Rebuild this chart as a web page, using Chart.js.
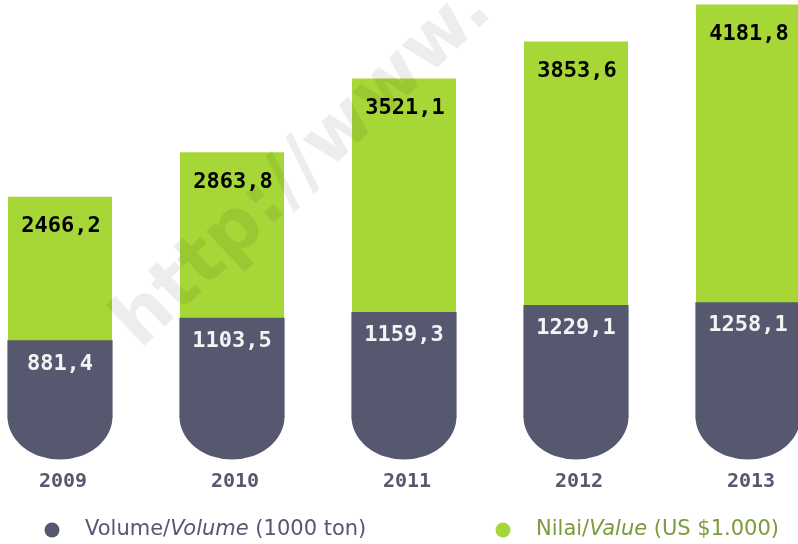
<!DOCTYPE html>
<html lang="id">
<head>
    <meta charset="UTF-8">
    <title>Volume dan Nilai 2009-2013</title>
    <script src="https://cdn.jsdelivr.net/npm/chart.js"></script>
    <style>
        body {
            margin: 0;
            background: #ffffff;
        }
        canvas {
            display: block;
        }
    </style>
</head>
<body>
    <canvas id="chart" width="798" height="544"></canvas>

    <script>
        const years = ['2009', '2010', '2011', '2012', '2013'];
        const volume = [881.4, 1103.5, 1159.3, 1229.1, 1258.1];   // 1000 ton
        const value = [2466.2, 2863.8, 3521.1, 3853.6, 4181.8];   // US $1.000

        const DARK = '#56586f';
        const GREEN = '#a7d737';

        // the two series sit on their own (hidden) axes
        const VOL_MIN = 127, VOL_MAX = 4255;
        const VAL_MIN = 500, VAL_MAX = 4223;

        const fmt = v => v.toFixed(1).replace('.', ',');

        // rounded bottom under each dark bar
        const capsPlugin = {
            id: 'caps',
            afterDatasetsDraw(chart) {
                const ctx = chart.ctx;
                const bottom = chart.chartArea.bottom;
                ctx.save();
                ctx.fillStyle = DARK;
                chart.getDatasetMeta(0).data.forEach(bar => {
                    ctx.beginPath();
                    ctx.ellipse(bar.x, bottom - 0.5, bar.width / 2 + 0.5, 43, 0, 0, Math.PI);
                    ctx.fill();
                });
                ctx.restore();
            }
        };

        const watermarkPlugin = {
            id: 'watermark',
            afterDatasetsDraw(chart) {
                const ctx = chart.ctx;
                ctx.save();
                ctx.translate(140, 350);
                ctx.rotate(-0.76);
                ctx.font = 'bold 74px "DejaVu Sans"';
                ctx.fillStyle = 'rgba(0,0,0,0.07)';
                ctx.fillText('http://www.', 0, 0);
                ctx.restore();
            }
        };

        const labelsPlugin = {
            id: 'barLabels',
            afterDatasetsDraw(chart) {
                const ctx = chart.ctx;
                const x = chart.scales.x;
                ctx.save();
                ctx.font = 'bold 22px "DejaVu Sans Mono"';
                ctx.textAlign = 'center';
                ctx.textBaseline = 'middle';
                chart.getDatasetMeta(0).data.forEach((bar, i) => {
                    ctx.fillStyle = '#f4f4f4';
                    ctx.fillText(fmt(volume[i]), bar.x, bar.y + 23);
                });
                chart.getDatasetMeta(1).data.forEach((bar, i) => {
                    ctx.fillStyle = '#000000';
                    ctx.fillText(fmt(value[i]), bar.x + 1, bar.y + 30);
                });
                // year labels under the rounded ends
                ctx.font = 'bold 20px "DejaVu Sans Mono"';
                ctx.fillStyle = DARK;
                years.forEach((y, i) => {
                    ctx.fillText(y, x.getPixelForValue(i) + 3, 482);
                });
                ctx.restore();
            }
        };

        // legend with italic english word
        const legendPlugin = {
            id: 'mixedLegend',
            afterDraw(chart) {
                const ctx = chart.ctx;
                const y = 530;
                const items = [
                    { x: 52, color: DARK, text: DARK, parts: ['Volume/', 'Volume', ' (1000 ton)'] },
                    { x: 503, color: GREEN, text: '#7d9b3a', parts: ['Nilai/', 'Value', ' (US $1.000)'] }
                ];
                ctx.save();
                ctx.textBaseline = 'middle';
                items.forEach(it => {
                    ctx.fillStyle = it.color;
                    ctx.beginPath();
                    ctx.arc(it.x, y, 7.5, 0, Math.PI * 2);
                    ctx.fill();
                    let x = it.x + 33;
                    ctx.fillStyle = it.text;
                    it.parts.forEach((p, k) => {
                        ctx.font = (k === 1 ? 'italic ' : '') + '21px "DejaVu Sans"';
                        ctx.fillText(p, x, y);
                        x += ctx.measureText(p).width;
                    });
                });
                ctx.restore();
            }
        };

        new Chart(document.getElementById('chart'), {
            type: 'bar',
            data: {
                labels: years,
                datasets: [
                    {
                        label: 'Volume/Volume (1000 ton)',
                        data: volume,
                        backgroundColor: DARK,
                        yAxisID: 'yVol',
                        base: VOL_MIN,
                        barThickness: 104,
                        inflateAmount: 0.6,
                        clip: false,
                        order: 0
                    },
                    {
                        label: 'Nilai/Value (US $1.000)',
                        data: value,
                        backgroundColor: GREEN,
                        yAxisID: 'yVal',
                        base: VAL_MIN,
                        barThickness: 104,
                        inflateAmount: 0,
                        clip: false,
                        order: 1
                    }
                ]
            },
            options: {
                responsive: false,
                animation: false,
                layout: {
                    padding: { left: 60, right: 50, top: 0, bottom: 127 }
                },
                datasets: {
                    bar: { grouped: false }
                },
                scales: {
                    x: {
                        display: false,
                        offset: false
                    },
                    yVol: {
                        display: false,
                        min: VOL_MIN,
                        max: VOL_MAX
                    },
                    yVal: {
                        display: false,
                        min: VAL_MIN,
                        max: VAL_MAX
                    }
                },
                plugins: {
                    legend: { display: false },
                    tooltip: { enabled: false }
                }
            },
            plugins: [capsPlugin, watermarkPlugin, labelsPlugin, legendPlugin]
        });
    </script>
</body>
</html>
